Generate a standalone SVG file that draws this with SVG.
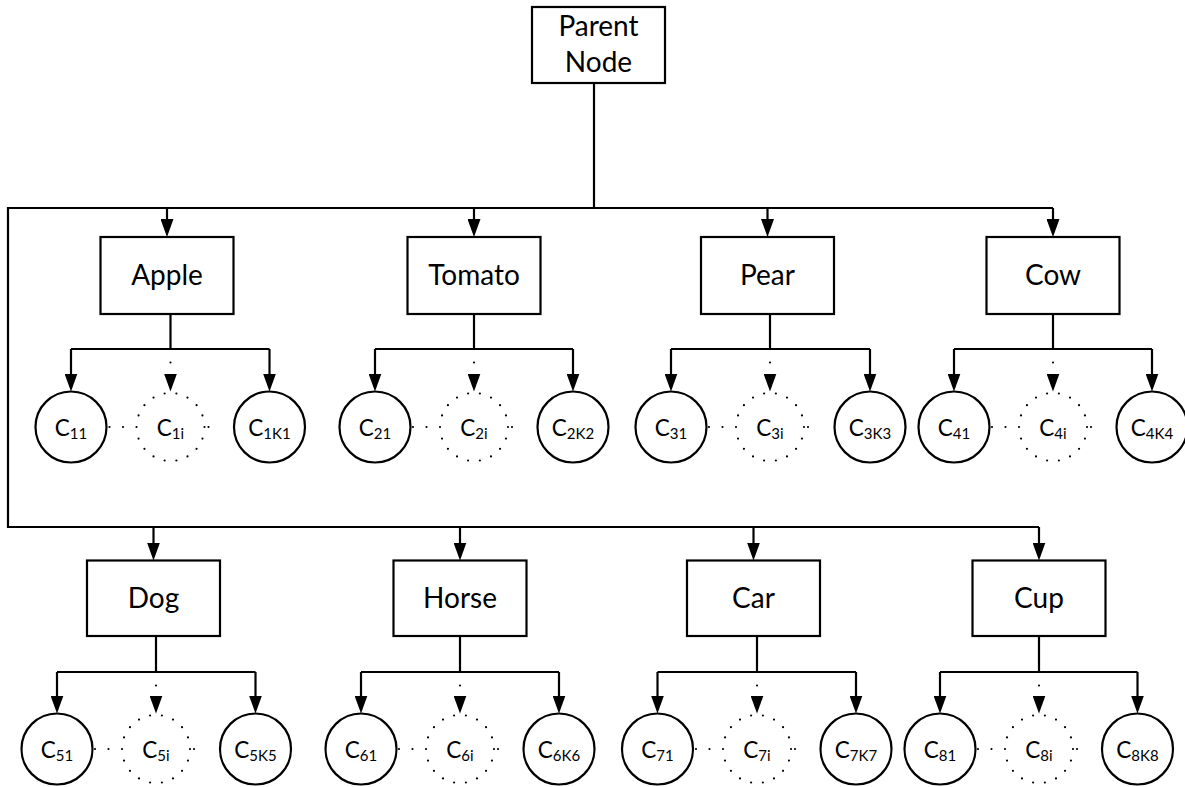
<svg xmlns="http://www.w3.org/2000/svg" width="1185" height="787" viewBox="0 0 1185 787">
<style>
.ln{fill:none;stroke:#000;stroke-width:2.2;stroke-linejoin:miter}
.arr{marker-end:url(#ah)}
.dt{fill:none;stroke:#000;stroke-width:2.2;stroke-linecap:round;stroke-dasharray:0 13.5}
.box{fill:#fff;stroke:#000;stroke-width:2.2}
.circ{fill:#fff;stroke:#000;stroke-width:2.2}
.dc{fill:none;stroke:#000;stroke-width:2.2;stroke-linecap:round;stroke-dasharray:0 1}
text{font-family:Lato,"Open Sans","Liberation Sans",sans-serif;fill:#000;text-anchor:middle}
.lbl{font-size:28px}
.ct{font-size:22.5px}
.sub{font-size:15px}
</style>
<defs>
<marker id="ah" markerUnits="userSpaceOnUse" markerWidth="18" markerHeight="13" viewBox="0 0 18 13" refX="14" refY="6.5" orient="auto"><path d="M0,0 L18,6.5 L0,13 z" fill="#000"/></marker>
</defs>
<rect width="1185" height="787" fill="#fff"/>
<g id="connectors">
<path class="ln" d="M594,83 V208"/>
<path class="ln" d="M1053,208 H8 V527 H1039"/>
<path class="ln arr" d="M167,208 V233"/>
<path class="ln arr" d="M474,208 V233"/>
<path class="ln arr" d="M767.5,208 V233"/>
<path class="ln arr" d="M1053,208 V233"/>
<path class="ln arr" d="M153.5,527 V556.5"/>
<path class="ln arr" d="M460,527 V556.5"/>
<path class="ln arr" d="M753.5,527 V556.5"/>
<path class="ln arr" d="M1039,527 V556.5"/>
<!-- Apple -->
<path class="ln" d="M170.5,314 V349 M71,349 H269.5"/>
<path class="ln arr" d="M71,349 V387.5"/>
<path class="ln arr" d="M269.5,349 V387.5"/>
<path class="dt arr" d="M170.5,349 V387.5"/>
<path class="dt" d="M109.5,427 H136.5 M208.5,427 H222"/>
<!-- Tomato -->
<path class="ln" d="M474,314 V349 M375,349 H573"/>
<path class="ln arr" d="M375,349 V387.5"/>
<path class="ln arr" d="M573,349 V387.5"/>
<path class="dt arr" d="M474,349 V387.5"/>
<path class="dt" d="M413,427 H440 M512,427 H525.5"/>
<!-- Pear -->
<path class="ln" d="M770,314 V349 M671,349 H870"/>
<path class="ln arr" d="M671,349 V387.5"/>
<path class="ln arr" d="M870,349 V387.5"/>
<path class="dt arr" d="M770,349 V387.5"/>
<path class="dt" d="M709,427 H736 M808,427 H821.5"/>
<!-- Cow -->
<path class="ln" d="M1053,314 V349 M954,349 H1152"/>
<path class="ln arr" d="M954,349 V387.5"/>
<path class="ln arr" d="M1152,349 V387.5"/>
<path class="dt arr" d="M1053,349 V387.5"/>
<path class="dt" d="M992,427 H1019 M1091,427 H1104.5"/>
<!-- Dog -->
<path class="ln" d="M156,636 V672 M57,672 H255.5"/>
<path class="ln arr" d="M57,672 V709.5"/>
<path class="ln arr" d="M255.5,672 V709.5"/>
<path class="dt arr" d="M156,672 V709.5"/>
<path class="dt" d="M95,749 H122 M194,749 H207.5"/>
<!-- Horse -->
<path class="ln" d="M460,636 V672 M361,672 H559"/>
<path class="ln arr" d="M361,672 V709.5"/>
<path class="ln arr" d="M559,672 V709.5"/>
<path class="dt arr" d="M460,672 V709.5"/>
<path class="dt" d="M399,749 H426 M498,749 H511.5"/>
<!-- Car -->
<path class="ln" d="M757,636 V672 M657.5,672 H856"/>
<path class="ln arr" d="M657.5,672 V709.5"/>
<path class="ln arr" d="M856,672 V709.5"/>
<path class="dt arr" d="M757,672 V709.5"/>
<path class="dt" d="M696,749 H723 M795,749 H808.5"/>
<!-- Cup -->
<path class="ln" d="M1039,636 V672 M940,672 H1137.5"/>
<path class="ln arr" d="M940,672 V709.5"/>
<path class="ln arr" d="M1137.5,672 V709.5"/>
<path class="dt arr" d="M1039,672 V709.5"/>
<path class="dt" d="M978,749 H1005 M1077,749 H1090.5"/>
</g>

<g id="parent">
<rect class="box" x="532" y="7" width="133" height="76"/>
<text class="lbl" x="598.5" y="36">Parent</text>
<text class="lbl" x="598.5" y="71.5">Node</text>
</g>

<g id="apple"><rect class="box" x="100.5" y="237" width="133" height="77"/><text class="lbl" x="167" y="285">Apple</text></g>
<g id="tomato"><rect class="box" x="407.5" y="237" width="133" height="77"/><text class="lbl" x="474" y="285">Tomato</text></g>
<g id="pear"><rect class="box" x="701" y="237" width="133" height="77"/><text class="lbl" x="767.5" y="285">Pear</text></g>
<g id="cow"><rect class="box" x="986.5" y="237" width="133" height="77"/><text class="lbl" x="1053" y="285">Cow</text></g>
<g id="dog"><rect class="box" x="87" y="560.5" width="133" height="75.5"/><text class="lbl" x="153.5" y="608">Dog</text></g>
<g id="horse"><rect class="box" x="393.5" y="560.5" width="133" height="75.5"/><text class="lbl" x="460" y="608">Horse</text></g>
<g id="car"><rect class="box" x="687" y="560.5" width="133" height="75.5"/><text class="lbl" x="753.5" y="608">Car</text></g>
<g id="cup"><rect class="box" x="972.5" y="560.5" width="133" height="75.5"/><text class="lbl" x="1039" y="608">Cup</text></g>

<g id="c11"><circle class="circ" cx="71" cy="427" r="35.5"/><text class="ct" x="71" y="435.5">C<tspan class="sub" dy="3">11</tspan></text></g>
<g id="c1i"><circle class="dc" cx="170.5" cy="427" r="34" pathLength="18"/><text class="ct" x="170.5" y="435.5">C<tspan class="sub" dy="3">1i</tspan></text></g>
<g id="c1k1"><circle class="circ" cx="269.5" cy="427" r="35.5"/><text class="ct" x="269.5" y="435.5">C<tspan class="sub" dy="3">1K1</tspan></text></g>

<g id="c21"><circle class="circ" cx="375" cy="427" r="35.5"/><text class="ct" x="375" y="435.5">C<tspan class="sub" dy="3">21</tspan></text></g>
<g id="c2i"><circle class="dc" cx="474" cy="427" r="34" pathLength="18"/><text class="ct" x="474" y="435.5">C<tspan class="sub" dy="3">2i</tspan></text></g>
<g id="c2k2"><circle class="circ" cx="573" cy="427" r="35.5"/><text class="ct" x="573" y="435.5">C<tspan class="sub" dy="3">2K2</tspan></text></g>

<g id="c31"><circle class="circ" cx="671" cy="427" r="35.5"/><text class="ct" x="671" y="435.5">C<tspan class="sub" dy="3">31</tspan></text></g>
<g id="c3i"><circle class="dc" cx="770" cy="427" r="34" pathLength="18"/><text class="ct" x="770" y="435.5">C<tspan class="sub" dy="3">3i</tspan></text></g>
<g id="c3k3"><circle class="circ" cx="870" cy="427" r="35.5"/><text class="ct" x="870" y="435.5">C<tspan class="sub" dy="3">3K3</tspan></text></g>

<g id="c41"><circle class="circ" cx="954" cy="427" r="35.5"/><text class="ct" x="954" y="435.5">C<tspan class="sub" dy="3">41</tspan></text></g>
<g id="c4i"><circle class="dc" cx="1053" cy="427" r="34" pathLength="18"/><text class="ct" x="1053" y="435.5">C<tspan class="sub" dy="3">4i</tspan></text></g>
<g id="c4k4"><circle class="circ" cx="1152" cy="427" r="35.5"/><text class="ct" x="1152" y="435.5">C<tspan class="sub" dy="3">4K4</tspan></text></g>

<g id="c51"><circle class="circ" cx="57" cy="749" r="35.5"/><text class="ct" x="57" y="757.5">C<tspan class="sub" dy="3">51</tspan></text></g>
<g id="c5i"><circle class="dc" cx="156" cy="749" r="34" pathLength="18"/><text class="ct" x="156" y="757.5">C<tspan class="sub" dy="3">5i</tspan></text></g>
<g id="c5k5"><circle class="circ" cx="255.5" cy="749" r="35.5"/><text class="ct" x="255.5" y="757.5">C<tspan class="sub" dy="3">5K5</tspan></text></g>

<g id="c61"><circle class="circ" cx="361" cy="749" r="35.5"/><text class="ct" x="361" y="757.5">C<tspan class="sub" dy="3">61</tspan></text></g>
<g id="c6i"><circle class="dc" cx="460" cy="749" r="34" pathLength="18"/><text class="ct" x="460" y="757.5">C<tspan class="sub" dy="3">6i</tspan></text></g>
<g id="c6k6"><circle class="circ" cx="559" cy="749" r="35.5"/><text class="ct" x="559" y="757.5">C<tspan class="sub" dy="3">6K6</tspan></text></g>

<g id="c71"><circle class="circ" cx="657.5" cy="749" r="35.5"/><text class="ct" x="657.5" y="757.5">C<tspan class="sub" dy="3">71</tspan></text></g>
<g id="c7i"><circle class="dc" cx="757" cy="749" r="34" pathLength="18"/><text class="ct" x="757" y="757.5">C<tspan class="sub" dy="3">7i</tspan></text></g>
<g id="c7k7"><circle class="circ" cx="856" cy="749" r="35.5"/><text class="ct" x="856" y="757.5">C<tspan class="sub" dy="3">7K7</tspan></text></g>

<g id="c81"><circle class="circ" cx="940" cy="749" r="35.5"/><text class="ct" x="940" y="757.5">C<tspan class="sub" dy="3">81</tspan></text></g>
<g id="c8i"><circle class="dc" cx="1039" cy="749" r="34" pathLength="18"/><text class="ct" x="1039" y="757.5">C<tspan class="sub" dy="3">8i</tspan></text></g>
<g id="c8k8"><circle class="circ" cx="1137.5" cy="749" r="35.5"/><text class="ct" x="1137.5" y="757.5">C<tspan class="sub" dy="3">8K8</tspan></text></g>
</svg>
